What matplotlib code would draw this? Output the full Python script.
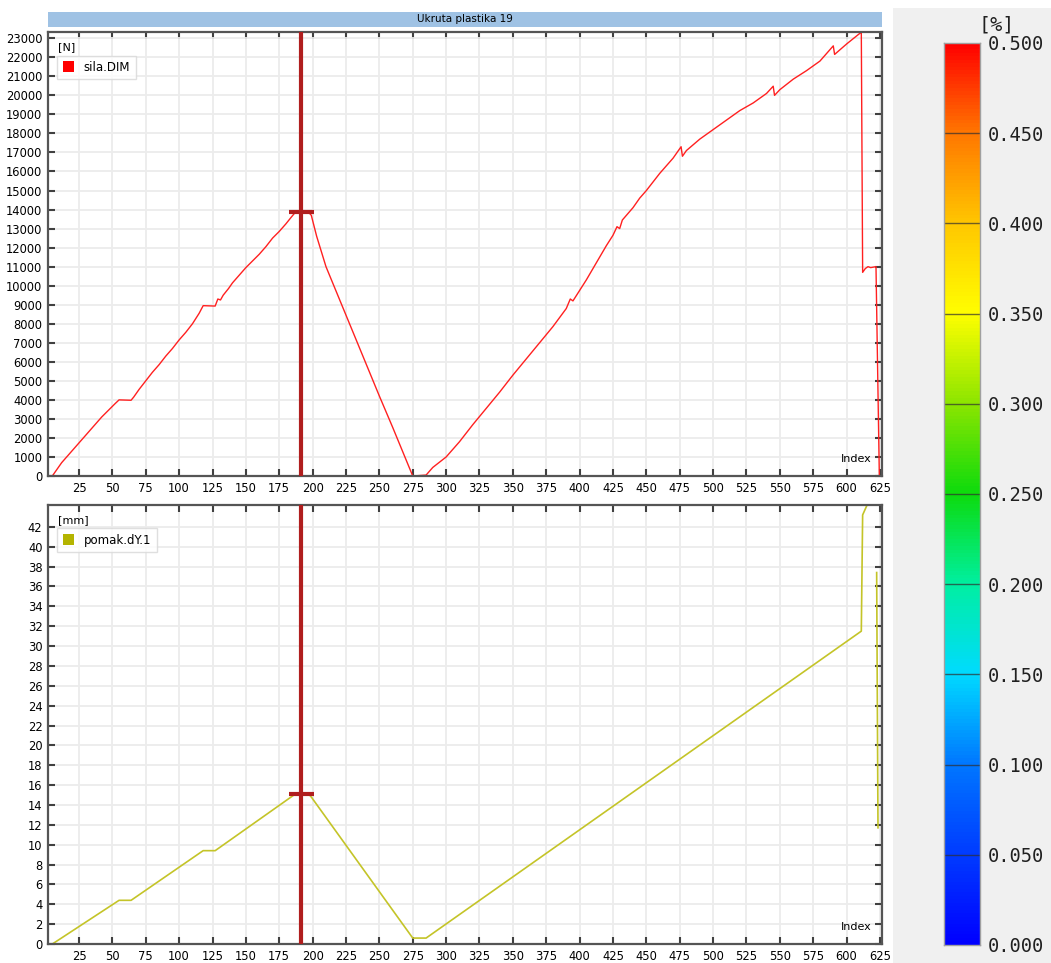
import numpy as np
import matplotlib
matplotlib.use('Agg')
from matplotlib import pyplot as plt
from matplotlib.patches import Rectangle
from matplotlib.colors import LinearSegmentedColormap

# sila.DIM [N] vs Index
sila_idx = [2, 5, 8, 12, 17, 22, 27, 32, 37, 42, 47, 52, 55, 64, 66, 70, 75, 80, 85, 90,
            95, 100, 105, 110, 115, 118, 127, 129, 131, 133, 137, 140, 145, 150, 155, 160,
            165, 170, 175, 180, 184, 187, 197, 199, 203, 210, 220, 230, 240, 250, 260, 270,
            275, 285, 290, 300, 310, 320, 330, 340, 350, 360, 370, 380, 390, 393, 395, 400,
            405, 410, 415, 420, 425, 428, 430, 432, 440, 445, 450, 455, 460, 465, 470, 476,
            477, 480, 490, 500, 510, 520, 530, 540, 545, 546, 550, 560, 570, 580, 590, 591,
            600, 611, 612, 614, 616, 618, 622, 624.5]
sila_val = [0, 0, 300, 700, 1100, 1500, 1900, 2300, 2700, 3100, 3450, 3800, 4000, 3980, 4150,
            4550, 5000, 5450, 5850, 6300, 6700, 7150, 7550, 8000, 8550, 8950, 8930, 9300, 9250,
            9500, 9850, 10150, 10550, 10950, 11300, 11650, 12050, 12500, 12850, 13250, 13600,
            13850, 13850, 13700, 12600, 11000, 9300, 7600, 5900, 4200, 2550, 850, 0, 50, 450,
            1000, 1800, 2700, 3550, 4400, 5300, 6150, 7000, 7850, 8800, 9300, 9200, 9750, 10300,
            10900, 11500, 12100, 12650, 13100, 13000, 13450, 14100, 14600, 15000, 15450, 15900,
            16300, 16700, 17300, 16800, 17100, 17700, 18200, 18700, 19200, 19600, 20100, 20480,
            20000, 20300, 20850, 21300, 21800, 22600, 22150, 22700, 23320, 10700, 10900, 11000,
            10950, 11000, 0]

# pomak.dY.1 [mm] vs Index
pomak_idx = [2, 5, 55, 64, 118, 127, 187, 197, 199, 275, 285, 611, 612, 618, np.nan, 622.5, 623.5]
pomak_val = [0, 0, 4.4, 4.4, 9.4, 9.4, 15.1, 15.1, 14.8, 0.6, 0.6, 31.5, 43.2, 45.0, np.nan, 37.4, 11.7]

cursor_idx = 191
cursor_sila = 13850
cursor_pomak = 15.1

cbar_ticks = [0.0, 0.05, 0.1, 0.15, 0.2, 0.25, 0.3, 0.35, 0.4, 0.45, 0.5]

fig = plt.figure(figsize=(10.51, 9.63), dpi=100)
plt.rcParams['font.family'] = ['DejaVu Sans']

# grey panel behind the colour bar
fig.patches.append(Rectangle((0.8497, 0), 0.1503, 0.9917, transform=fig.transFigure,
                             facecolor='#f0f0f0', edgecolor='none', zorder=-10))

# title bar
fig.patches.append(Rectangle((0.0457, 0.972), 0.7935, 0.0156, transform=fig.transFigure,
                             facecolor='#9fc2e4', edgecolor='none', zorder=-5))
fig.text(0.0457 + 0.7935 / 2, 0.972 + 0.0078, 'Ukruta plastika 19', ha='center', va='center',
         fontsize=7.5, color='black')


def style_axes(ax, ymax, ytop, ystep, unit, name, color):
    ax.set_xlim(1.8, 626.5)
    ax.set_ylim(0, ymax)
    ax.set_xticks(np.arange(25, 626, 25))
    ax.set_yticks(np.arange(0, ytop + ystep / 2, ystep))
    ax.grid(True, color='#ececec', linewidth=1.3)
    ax.set_axisbelow(True)
    ax.tick_params(direction='in', length=5, width=1.5, color='#404040', labelsize=8.3,
                   top=True, right=True, pad=4)
    for s in ax.spines.values():
        s.set_color('#555555')
        s.set_linewidth(1.6)
    ax.text(0.012, 0.978, unit, transform=ax.transAxes, fontsize=8, va='top', ha='left')
    ax.text(0.987, 0.027, 'Index', transform=ax.transAxes, fontsize=8, va='bottom', ha='right')
    h = Rectangle((0, 0), 1, 1, facecolor=color, edgecolor='none')
    ax.legend([h], [name], loc='upper left', bbox_to_anchor=(0.011, 0.947), fontsize=8.5,
              frameon=True, fancybox=False, edgecolor='#d8d8d8', handlelength=1.0,
              handleheight=1.0, borderpad=0.45, handletextpad=0.8, borderaxespad=0)


ax1 = fig.add_axes([0.0457, 0.5057, 0.7935, 0.4611])
ax1.plot(sila_idx, sila_val, color='#ff2020', linewidth=1.0)
style_axes(ax1, 23330, 23000, 1000, '[N]', 'sila.DIM', '#ff0000')
ax1.axvline(cursor_idx, color='#b01e1e', linewidth=3, zorder=5)
ax1.plot([cursor_idx], [cursor_sila], marker='_', markersize=18, mew=3, color='#b01e1e', zorder=6)

ax2 = fig.add_axes([0.0457, 0.0197, 0.7935, 0.4559])
ax2.plot(pomak_idx, pomak_val, color='#c4c428', linewidth=1.2)
style_axes(ax2, 44.2, 42, 2, '[mm]', 'pomak.dY.1', '#b4b400')
ax2.axvline(cursor_idx, color='#b01e1e', linewidth=3, zorder=5)
ax2.plot([cursor_idx], [cursor_pomak], marker='_', markersize=18, mew=3, color='#b01e1e', zorder=6)

# colour bar
cmap = LinearSegmentedColormap.from_list('scale', [
    (0.0, (0, 0, 1)), (0.2, (0, 0.47, 1)), (0.3, (0, 0.86, 1)), (0.4, (0, 0.94, 0.63)),
    (0.5, (0.05, 0.86, 0.05)), (0.6, (0.55, 0.9, 0)), (0.7, (1, 1, 0)), (0.8, (1, 0.78, 0)),
    (0.9, (1, 0.47, 0)), (1.0, (1, 0, 0))])
cax = fig.add_axes([0.898, 0.0187, 0.0343, 0.9367])
grad = np.linspace(0, 0.5, 256).reshape(-1, 1)
cax.imshow(grad, aspect='auto', cmap=cmap, origin='lower', extent=[0, 1, 0, 0.5])
cax.set_xlim(0, 1)
cax.set_ylim(0, 0.5)
for t in cbar_ticks[1:-1]:
    cax.axhline(t, color='#303030', linewidth=1.0, alpha=0.7)
cax.set_xticks([])
cax.set_yticks(cbar_ticks)
cax.set_yticklabels(['%.3f' % t for t in cbar_ticks], family='DejaVu Sans Mono', fontsize=13.5,
                    color='#202020')
cax.yaxis.tick_right()
cax.tick_params(length=0, pad=6)
for s in cax.spines.values():
    s.set_color('#a0a0a0')
    s.set_linewidth(1.0)
fig.text(0.948, 0.974, '[%]', ha='center', va='center', family='DejaVu Sans Mono',
         fontsize=14.5, color='#202020')

fig.savefig('out.png', dpi=100)
